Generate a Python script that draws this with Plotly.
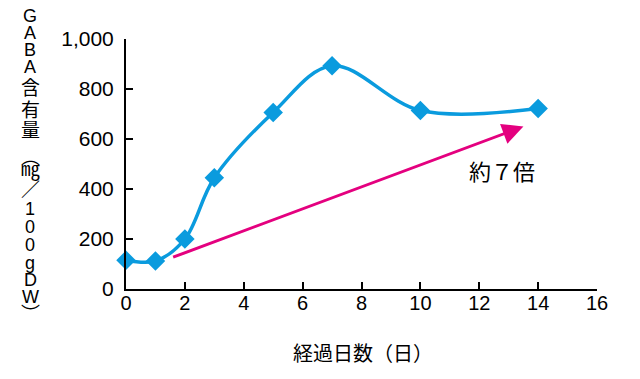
import plotly.graph_objects as go

days = [0, 1, 2, 3, 5, 7, 10, 14]
gaba = [115, 112, 200, 445, 706, 893, 714, 722]
x_ticks = [0, 2, 4, 6, 8, 10, 12, 14, 16]
y_ticks = [0, 200, 400, 600, 800, 1000]
y_tick_labels = ["0", "200", "400", "600", "800", "1,000"]
arrow_start = (1.55, 125)
arrow_end = (13.5, 650)
note_pos = (12.77, 476)
note_text = "約７倍"
x_title = "経過日数（日）"
y_title_chars = ["G", "A", "B", "A", "含", "有", "量", "︵", "㎎", "／",
                 "1", "0", "0", "g", "D", "W", "︶"]
y_title_rows = [16, 33, 50, 67, 87, 108, 128, 155, 167, 188,
                209, 227, 245, 263, 280, 297, 312]

blue = "#0A9BDE"
magenta = "#E4007F"
latin = "Liberation Sans, Arial, sans-serif"
cjk = "Noto Sans CJK JP"

# page body has an 8px margin; plot area spans screen x 126..597, y 39..289
OFF = 8
PX0, PX1, PY0, PY1 = 126, 597, 289, 39


def px_to_paper(x, y):
    return (x - PX0) / (PX1 - PX0), (PY0 - y) / (PY0 - PY1)


fig = go.Figure()
fig.add_trace(go.Scatter(
    x=days, y=gaba, mode="lines+markers",
    line=dict(color=blue, width=3.5, shape="spline", smoothing=1.0),
    marker=dict(symbol="diamond", size=15, color=blue),
    cliponaxis=False, showlegend=False,
))

fig.add_annotation(
    x=arrow_end[0], y=arrow_end[1], ax=arrow_start[0], ay=arrow_start[1],
    xref="x", yref="y", axref="x", ayref="y",
    showarrow=True, arrowhead=2, arrowsize=1.4, arrowwidth=3, arrowcolor=magenta, text="",
    standoff=0, startstandoff=0,
)
fig.add_annotation(
    x=note_pos[0], y=note_pos[1], xref="x", yref="y", text=note_text, showarrow=False,
    font=dict(size=22, color="black", family=cjk),
)

for ch, row in zip(y_title_chars, y_title_rows):
    is_cjk = ch in "含有量︵︶㎎／"
    px, py = px_to_paper(30, row)
    fig.add_annotation(
        x=px, y=py, xref="paper", yref="paper", xanchor="center", yanchor="middle",
        text=ch, showarrow=False, borderpad=0,
        font=dict(size=19 if is_cjk else 18, color="black", family=cjk if is_cjk else latin),
    )

tx, ty = px_to_paper(363, 352)
fig.add_annotation(
    x=tx, y=ty, xref="paper", yref="paper", xanchor="center", yanchor="middle",
    text=x_title, showarrow=False, font=dict(size=20, color="black", family=cjk),
)

fig.update_layout(
    width=640 - OFF, height=379 - OFF,
    margin=dict(l=PX0 - OFF, r=640 - PX1, t=PY1 - OFF, b=379 - PY0, autoexpand=False),
    paper_bgcolor="white", plot_bgcolor="white",
    font=dict(family=latin, size=20, color="black"),
    xaxis=dict(
        range=[0, 16], tickvals=x_ticks, ticks="inside", ticklen=7, tickwidth=2,
        tickcolor="black", showline=True, linecolor="black", linewidth=2,
        showgrid=False, zeroline=False, ticklabelstandoff=-5,
    ),
    yaxis=dict(
        range=[0, 1000], tickvals=y_ticks, ticktext=y_tick_labels, ticks="inside",
        ticklen=7, tickwidth=2, tickcolor="black", showline=True, linecolor="black",
        linewidth=2, showgrid=False, zeroline=False, ticklabelstandoff=6,
        tickfont=dict(size=21),
    ),
)

fig.write_html("out.html")
